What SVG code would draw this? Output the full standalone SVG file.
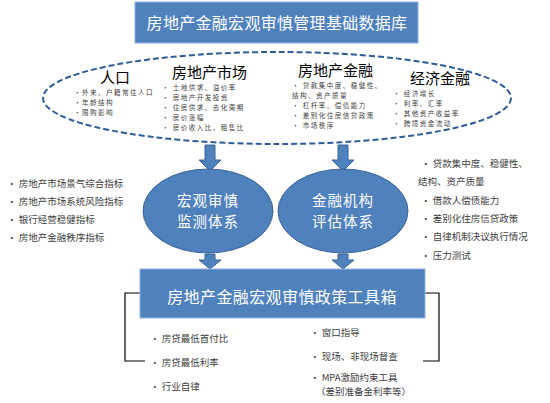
<svg xmlns="http://www.w3.org/2000/svg" width="550" height="403" viewBox="0 0 550 403">
<defs>
<style>
.box{fill:#4F81BD;stroke:#8EB4E3;stroke-width:1}
.ell{fill:#4F81BD;stroke:#3A6398;stroke-width:1}
.arr{fill:#4F81BD;stroke:#3A6398;stroke-width:1}
.wt{font-family:"Noto Sans CJK SC",sans-serif;fill:#FFFFFF;text-anchor:middle}
.et{font-family:"Noto Sans CJK SC",sans-serif;fill:#FFFFFF;text-anchor:middle;font-size:14.5px;letter-spacing:1px}
.hd{font-family:"Noto Sans CJK SC",sans-serif;fill:#000000;font-size:15px}
.it{font-family:"Noto Sans CJK SC",sans-serif;fill:#404040;font-size:6.6px;letter-spacing:1.4px}
.li{font-family:"Noto Sans CJK SC",sans-serif;fill:#404040;font-size:9.5px}
.br{fill:none;stroke:#000000;stroke-width:1.2}
</style>
</defs>
<rect width="550" height="403" fill="#FFFFFF"/>

<g id="connectors">
<path class="arr" d="M205,145 H215 V160 H221 L210,171 L199,160 H205 Z"/>
<path class="arr" d="M338,145 H348 V160 H354 L343,171 L332,160 H338 Z"/>
<path class="arr" d="M205,254 H215 V260 H221 L210,269 L199,260 H205 Z"/>
<path class="arr" d="M338,254 H348 V260 H354 L343,269 L332,260 H338 Z"/>
<polyline class="br" points="140,293 125,293 125,361 145,361"/>
<polyline class="br" points="425,293 439,293 439,361 423,361"/>
</g>

<g id="title">
<rect class="box" x="135" y="2" width="283" height="41"/>
<text class="wt" x="277" y="29" font-size="16" letter-spacing="0.3">房地产金融宏观审慎管理基础数据库</text>
</g>

<g id="database">
<ellipse cx="277" cy="98" rx="234" ry="46" fill="none" stroke="#2E5C99" stroke-width="2" stroke-dasharray="6 3"/>
<text class="hd" x="100" y="83">人口</text>
<text class="it" x="74" y="95">•外来、户籍常住人口</text>
<text class="it" x="74" y="105">•年龄结构</text>
<text class="it" x="74" y="115">•限购影响</text>

<text class="hd" x="172" y="78">房地产市场</text>
<text class="it" x="162" y="90">• 土地供求、溢价率</text>
<text class="it" x="162" y="100">• 房地产开发投资</text>
<text class="it" x="162" y="110">• 住房供求、去化周期</text>
<text class="it" x="162" y="120">• 房价涨幅</text>
<text class="it" x="162" y="130">• 房价收入比、租售比</text>

<text class="hd" x="298" y="76">房地产金融</text>
<text class="it" x="292" y="88">• 贷款集中度、稳健性、</text>
<text class="it" x="292" y="98">结构、资产质量</text>
<text class="it" x="292" y="108">• 杠杆率、偿债能力</text>
<text class="it" x="292" y="118">• 差别化住房信贷政策</text>
<text class="it" x="292" y="128">• 市场秩序</text>

<text class="hd" x="410" y="84">经济金融</text>
<text class="it" x="393" y="96">• 经济增长</text>
<text class="it" x="393" y="106">• 利率、汇率</text>
<text class="it" x="393" y="116">• 其他资产收益率</text>
<text class="it" x="393" y="126">• 跨境资金流动</text>
</g>

<g id="monitor">
<ellipse class="ell" cx="208" cy="211" rx="65" ry="42"/>
<text class="et" x="208" y="206">宏观审慎</text>
<text class="et" x="208" y="227">监测体系</text>
</g>

<g id="assess">
<ellipse class="ell" cx="343" cy="211" rx="65" ry="42"/>
<text class="et" x="343" y="206">金融机构</text>
<text class="et" x="343" y="227">评估体系</text>
</g>

<g id="left-list">
<text class="li" x="7" y="187">•  房地产市场景气综合指标</text>
<text class="li" x="7" y="205">•  房地产市场系统风险指标</text>
<text class="li" x="7" y="223">• 银行经营稳健指标</text>
<text class="li" x="7" y="241">• 房地产金融秩序指标</text>
</g>

<g id="right-list">
<text class="li" x="421" y="167">•  贷款集中度、稳健性、</text>
<text class="li" x="418" y="185">结构、资产质量</text>
<text class="li" x="421" y="204">•  借款人偿债能力</text>
<text class="li" x="421" y="222">• 差别化住房信贷政策</text>
<text class="li" x="421" y="240">• 自律机制决议执行情况</text>
<text class="li" x="421" y="259">• 压力测试</text>
</g>

<g id="toolbox">
<rect class="box" x="140" y="269" width="285" height="49"/>
<text class="wt" x="282" y="303" font-size="16" letter-spacing="0.4">房地产金融宏观审慎政策工具箱</text>
</g>

<g id="tools-left">
<text class="li" x="150" y="342">•  房贷最低首付比</text>
<text class="li" x="150" y="366">•  房贷最低利率</text>
<text class="li" x="150" y="390">•  行业自律</text>
</g>

<g id="tools-right">
<text class="li" x="310" y="336">•  窗口指导</text>
<text class="li" x="310" y="360">•  现场、非现场督查</text>
<text class="li" x="310" y="381">•  MPA激励约束工具</text>
<text class="li" x="316" y="395">（差别准备金利率等）</text>
</g>
</svg>
